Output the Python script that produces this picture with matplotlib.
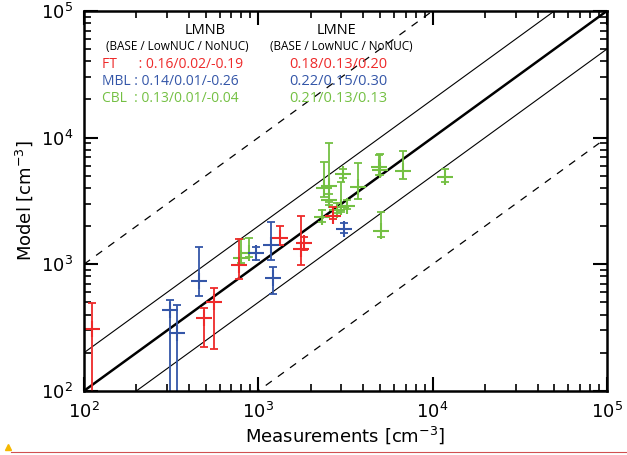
import matplotlib
matplotlib.use("Agg")
import matplotlib.pyplot as plt
import numpy as np
from matplotlib.lines import Line2D

# measured / model / model upper / model lower
ft_x = [111, 488, 560, 774, 1330, 1760, 1820, 2690]
ft_y = [307, 375, 507, 986, 1604, 1330, 1480, 2405]
ft_hi = [492, 450, 653, 1574, 2005, 2420, 1650, 2817]
ft_lo = [50, 221, 214, 765, 1419, 986, 1300, 2265]

mbl_x = [311, 343, 457, 966, 1178, 1219, 3113]
mbl_y = [436, 285, 743, 1221, 1419, 774, 1900]
mbl_hi = [522, 477, 1361, 1377, 2168, 957, 2129]
mbl_lo = [50, 50, 562, 1082, 1082, 580, 1758]

cbl_x = [793, 885, 2383, 2553, 2550, 3075, 2971, 3213, 2818, 2311, 3748, 4990, 4900, 6792, 11780, 5058]
cbl_y = [1115, 1236, 3981, 4150, 3214, 5129, 2851, 2884, 2685, 2350, 4092, 5548, 5900, 5485, 4866, 1841]
cbl_hi = [1574, 1622, 6383, 9120, 3590, 5623, 4436, 3214, 3028, 2685, 6339, 7430, 7300, 7832, 5623, 2600]
cbl_lo = [1018, 1148, 3420, 3119, 2938, 4775, 2600, 2710, 2523, 2168, 3275, 5070, 5100, 4690, 4487, 1633]

red = '#ee2a2a'
blue = '#3456a8'
green = '#74c043'

fig = plt.figure(figsize=(6.27, 4.55), dpi=100)
ax = fig.add_axes([0.134, 0.141, 0.834, 0.835])
ax.set_xscale('log')
ax.set_yscale('log')
ax.set_xlim(1e2, 1e5)
ax.set_ylim(1e2, 1e5)

# 1:1, factor 2 and factor 10 lines
xx = np.array([1e1, 1e6])
ax.plot(xx, xx, color='k', lw=1.8)
ax.plot(xx, xx * 2, color='k', lw=0.8)
ax.plot(xx, xx / 2, color='k', lw=0.8)
ax.plot(xx, xx * 10, color='k', lw=0.9, ls=(0, (6, 6)))
ax.plot(xx, xx / 10, color='k', lw=0.9, ls=(0, (6, 6)))

def draw_set(x, y, hi, lo, col):
    x = np.array(x, float)
    y = np.array(y, float)
    err = [y - np.array(lo, float), np.array(hi, float) - y]
    ax.errorbar(x, y, yerr=err, fmt='none', ecolor=col, elinewidth=1.3,
                capsize=3, capthick=1.3)
    ax.plot(x, y, '+', color=col, ms=11, mew=1.5)

draw_set(cbl_x, cbl_y, cbl_hi, cbl_lo, green)
draw_set(ft_x, ft_y, ft_hi, ft_lo, red)
draw_set(mbl_x, mbl_y, mbl_hi, mbl_lo, blue)

for s in ax.spines.values():
    s.set_linewidth(1.8)
ax.tick_params(which='both', direction='in', top=True, right=True)
ax.tick_params(which='major', length=10, width=1.5, labelsize=13, pad=8)
ax.tick_params(which='minor', length=5, width=1.2)
ax.set_xlabel('Measurements [cm$^{-3}$]', fontsize=13, labelpad=2)
ax.set_ylabel('Model [cm$^{-3}$]', fontsize=13, labelpad=4)

# statistics text, positions in pixels from the top
tf = 'Open Sans'
ax.text(205, 31, 'LMNB', transform=None, fontsize=10.5, family=tf, ha='center', va='center')
ax.text(337, 31, 'LMNE', transform=None, fontsize=10.5, family=tf, ha='center', va='center')
for xc in (177, 341):
    ax.text(xc, 47, '(BASE / LowNUC / NoNUC)', transform=None, fontsize=8.5,
            family=tf, ha='center', va='center')
rows = [('FT      : 0.16/0.02/-0.19', '0.18/0.13/0.20', red),
        ('MBL : 0.14/0.01/-0.26', '0.22/0.15/0.30', blue),
        ('CBL  : 0.13/0.01/-0.04', '0.21/0.13/0.13', green)]
for i, (a, b, c) in enumerate(rows):
    yy = 65 + i * 16.5
    ax.text(102, yy, a, transform=None, fontsize=10, family=tf, color=c, va='center')
    ax.text(289, yy, b, transform=None, fontsize=10.5, family=tf, color=c, va='center')

for t in ax.texts:
    px, py = t.get_position()
    t.set_position((px, 455 - py))

# screenshot marker at bottom
fig.add_artist(Line2D([0.018, 1.0], [0.006, 0.006], color='#d05050', lw=0.8))
fig.add_artist(Line2D([0.013], [0.017], marker='^', color='#f5b800', ms=5, lw=0))

fig.savefig('out.png', dpi=100)
